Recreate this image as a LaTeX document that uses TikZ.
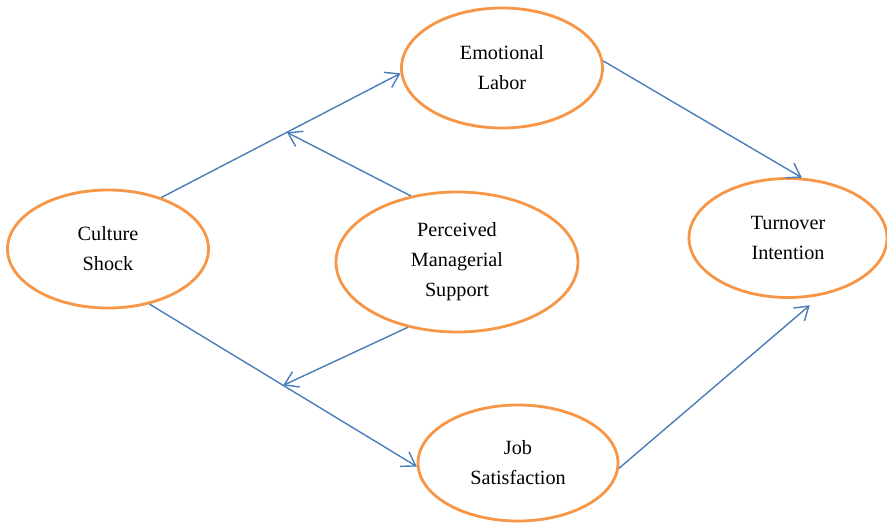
\documentclass[tikz,border=0pt]{standalone}
\usepackage{fontspec}
\setmainfont{Liberation Serif}
\usepackage{tikz}
\usetikzlibrary{arrows.meta,positioning,shapes.geometric}
\definecolor{modelorange}{HTML}{F79646}
\definecolor{modelblue}{HTML}{4A7EBB}

\begin{document}
\begin{tikzpicture}[
    construct/.style={ellipse,draw=modelorange,line width=1.6pt,inner sep=0pt,
        align=center,font=\fontsize{11.5}{17}\selectfont},
    path/.style={-{Straight Barb[length=2.6mm,width=3.4mm]},modelblue,line width=0.8pt}
  ]
    \useasboundingbox (0,0) rectangle (17.74,10.44);
    % constructs of the model
    \node[construct,minimum width=4.02cm,minimum height=2.4cm] (emo) at (10.04,9.08) {Emotional\\Labor};
    \node[construct,minimum width=4.02cm,minimum height=2.36cm] (cult) at (2.16,5.46) {Culture\\Shock};
    \node[construct,minimum width=4.84cm,minimum height=2.8cm] (pms) at (9.14,5.2) {Perceived\\Managerial\\Support};
    \node[construct,minimum width=3.96cm,minimum height=2.38cm] (turn) at (15.76,5.68) {Turnover\\Intention};
    \node[construct,minimum width=4.0cm,minimum height=2.32cm] (job) at (10.36,1.18) {Job\\Satisfaction};
    % direct paths
    \draw[path] (cult.44) -- coordinate[pos=0.525] (modup) (emo.183);
    \draw[path] (cult.-53) -- coordinate[pos=0.5] (moddown) (job.182);
    \draw[path] (emo.4.5) -- (turn.77);
    \draw[path,shorten >=0.3cm] (job.-3) -- (turn.-60);
    % moderating paths
    \draw[path] (pms.125) -- (modup);
    \draw[path] (pms.233) -- (moddown);
\end{tikzpicture}
\end{document}
